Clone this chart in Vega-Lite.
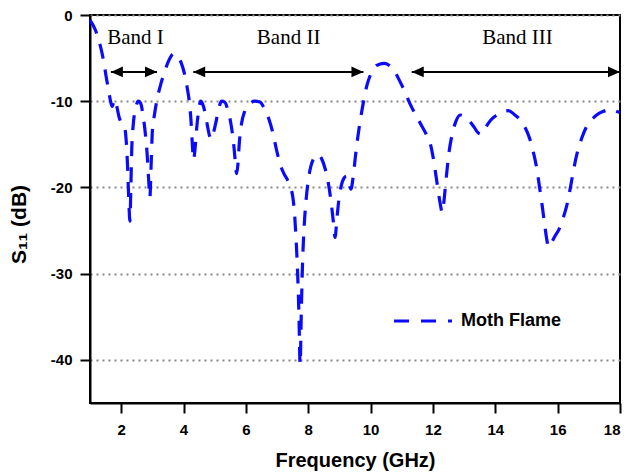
{
  "$schema": "https://vega.github.io/schema/vega-lite/v6.json",
  "width": 530,
  "height": 388,
  "autosize": {"type": "none"},
  "padding": {"left": 90, "top": 15, "right": 11, "bottom": 72},
  "background": "white",
  "config": {
    "view": {"stroke": "black", "strokeWidth": 2},
    "font": "Liberation Sans",
    "axis": {
      "domainColor": "black", "domainWidth": 2,
      "tickColor": "black", "tickWidth": 2,
      "labelColor": "black", "labelFont": "Liberation Sans", "labelFontWeight": "bold", "labelFontSize": 15,
      "titleColor": "black", "titleFont": "Liberation Sans", "titleFontWeight": "bold", "titleFontSize": 20
    }
  },
  "datasets": {
    "curve": [
      {"f":1.00,"s":-0.6},{"f":1.10,"s":-1.2},{"f":1.20,"s":-2.0},{"f":1.28,"s":-2.9},{"f":1.36,"s":-4.0},{"f":1.44,"s":-5.4},{"f":1.52,"s":-7.2},{"f":1.60,"s":-8.8},{"f":1.66,"s":-10.0},{"f":1.71,"s":-10.6},{"f":1.76,"s":-10.1},{"f":1.81,"s":-9.8},{"f":1.86,"s":-10.6},{"f":1.93,"s":-11.8},{"f":2.02,"s":-12.6},{"f":2.10,"s":-12.9},{"f":2.16,"s":-14.5},{"f":2.21,"s":-18},{"f":2.25,"s":-22},{"f":2.28,"s":-23.9},{"f":2.31,"s":-20},{"f":2.34,"s":-15.5},{"f":2.39,"s":-12.6},{"f":2.46,"s":-10.9},{"f":2.55,"s":-10.0},{"f":2.63,"s":-10.3},{"f":2.70,"s":-11.6},{"f":2.77,"s":-13.6},{"f":2.83,"s":-16},{"f":2.88,"s":-19},{"f":2.92,"s":-21.2},{"f":2.96,"s":-17.5},{"f":3.00,"s":-13.5},{"f":3.07,"s":-11.5},{"f":3.15,"s":-9.8},{"f":3.25,"s":-8.3},{"f":3.40,"s":-6.5},{"f":3.55,"s":-5.1},{"f":3.68,"s":-4.5},{"f":3.80,"s":-4.7},{"f":3.92,"s":-5.5},{"f":4.03,"s":-6.8},{"f":4.12,"s":-8.5},{"f":4.19,"s":-10.2},{"f":4.24,"s":-12.3},{"f":4.28,"s":-14.8},{"f":4.32,"s":-16.8},{"f":4.37,"s":-15.5},{"f":4.42,"s":-13.2},{"f":4.48,"s":-11.2},{"f":4.55,"s":-10.0},{"f":4.62,"s":-10.4},{"f":4.70,"s":-11.5},{"f":4.77,"s":-12.9},{"f":4.84,"s":-14.1},{"f":4.89,"s":-14.4},{"f":4.95,"s":-13.8},{"f":5.03,"s":-12.6},{"f":5.12,"s":-11.0},{"f":5.22,"s":-10.0},{"f":5.32,"s":-10.1},{"f":5.42,"s":-11.0},{"f":5.50,"s":-12.2},{"f":5.57,"s":-13.8},{"f":5.62,"s":-15.4},{"f":5.66,"s":-17.0},{"f":5.70,"s":-18.4},{"f":5.74,"s":-17.5},{"f":5.79,"s":-14.8},{"f":5.86,"s":-12.6},{"f":5.96,"s":-11.2},{"f":6.10,"s":-10.4},{"f":6.28,"s":-10.0},{"f":6.45,"s":-10.1},{"f":6.60,"s":-10.9},{"f":6.74,"s":-12.1},{"f":6.86,"s":-13.6},{"f":6.98,"s":-15.6},{"f":7.10,"s":-17.3},{"f":7.22,"s":-18.4},{"f":7.33,"s":-19.1},{"f":7.42,"s":-19.9},{"f":7.50,"s":-21.0},{"f":7.56,"s":-23.0},{"f":7.61,"s":-26.0},{"f":7.66,"s":-30},{"f":7.70,"s":-34.5},{"f":7.74,"s":-40.5},{"f":7.78,"s":-34},{"f":7.82,"s":-28.5},{"f":7.87,"s":-24.5},{"f":7.93,"s":-21.5},{"f":8.00,"s":-19.2},{"f":8.08,"s":-17.6},{"f":8.18,"s":-16.6},{"f":8.30,"s":-16.2},{"f":8.42,"s":-16.6},{"f":8.54,"s":-17.8},{"f":8.64,"s":-19.4},{"f":8.72,"s":-21.3},{"f":8.80,"s":-23.8},{"f":8.86,"s":-25.8},{"f":8.92,"s":-23.6},{"f":8.98,"s":-21.5},{"f":9.06,"s":-19.8},{"f":9.15,"s":-18.9},{"f":9.23,"s":-18.7},{"f":9.30,"s":-19.4},{"f":9.37,"s":-20.2},{"f":9.44,"s":-18.8},{"f":9.52,"s":-16.2},{"f":9.60,"s":-13.9},{"f":9.68,"s":-12.0},{"f":9.77,"s":-10.1},{"f":9.88,"s":-8.2},{"f":10.00,"s":-6.9},{"f":10.12,"s":-6.1},{"f":10.28,"s":-5.7},{"f":10.45,"s":-5.6},{"f":10.62,"s":-5.9},{"f":10.78,"s":-6.6},{"f":10.94,"s":-7.7},{"f":11.10,"s":-8.9},{"f":11.25,"s":-10.2},{"f":11.42,"s":-11.4},{"f":11.60,"s":-12.6},{"f":11.78,"s":-13.8},{"f":11.92,"s":-15.0},{"f":12.02,"s":-16.8},{"f":12.12,"s":-19.2},{"f":12.22,"s":-21.6},{"f":12.30,"s":-22.9},{"f":12.37,"s":-21},{"f":12.44,"s":-18.4},{"f":12.52,"s":-15.8},{"f":12.62,"s":-13.8},{"f":12.74,"s":-12.3},{"f":12.88,"s":-11.6},{"f":13.02,"s":-11.8},{"f":13.17,"s":-12.3},{"f":13.32,"s":-13.0},{"f":13.46,"s":-13.7},{"f":13.56,"s":-13.8},{"f":13.68,"s":-13.1},{"f":13.85,"s":-12.2},{"f":14.05,"s":-11.6},{"f":14.25,"s":-11.2},{"f":14.42,"s":-11.1},{"f":14.60,"s":-11.5},{"f":14.78,"s":-12.1},{"f":14.95,"s":-13.0},{"f":15.10,"s":-14.3},{"f":15.22,"s":-15.9},{"f":15.33,"s":-17.8},{"f":15.42,"s":-20.0},{"f":15.50,"s":-22.0},{"f":15.58,"s":-24.2},{"f":15.65,"s":-26.0},{"f":15.71,"s":-26.9},{"f":15.80,"s":-26.4},{"f":15.92,"s":-25.6},{"f":16.05,"s":-24.8},{"f":16.18,"s":-23.5},{"f":16.30,"s":-22.0},{"f":16.42,"s":-19.8},{"f":16.53,"s":-17.6},{"f":16.64,"s":-15.8},{"f":16.78,"s":-14.2},{"f":16.92,"s":-13.0},{"f":17.08,"s":-12.2},{"f":17.25,"s":-11.6},{"f":17.45,"s":-11.2},{"f":17.70,"s":-11.0},{"f":17.90,"s":-11.2},{"f":18.00,"s":-11.3}
    ],
    "bands": [
      {"band": "Band I", "start": 1.67, "end": 3.15, "level": -6.6, "mid": 2.46, "top": -2.7},
      {"band": "Band II", "start": 4.31, "end": 9.77, "level": -6.6, "mid": 7.37, "top": -2.7},
      {"band": "Band III", "start": 11.32, "end": 18.0, "level": -6.6, "mid": 14.71, "top": -2.7}
    ]
  },
  "layer": [
    {
      "data": {"name": "curve"},
      "mark": {"type": "line", "interpolate": "monotone", "strokeWidth": 3.2, "strokeDash": [15, 11], "strokeCap": "butt"},
      "encoding": {
        "x": {
          "field": "f", "type": "quantitative",
          "scale": {"domain": [1, 18], "nice": false, "zero": false},
          "axis": {
            "title": "Frequency (GHz)",
            "values": [2, 3, 4, 5, 6, 7, 8, 9, 10, 11, 12, 13, 14, 15, 16, 17, 18],
            "labelExpr": "datum.value % 2 == 0 ? '' + datum.value : ''",
            "tickSize": {"condition": {"test": "datum.value % 2 == 1", "value": 5}, "value": 10},
            "labelPadding": 9,
            "grid": false,
            "titleY": 63, "titleBaseline": "alphabetic"
          }
        },
        "y": {
          "field": "s", "type": "quantitative",
          "scale": {"domain": [-45, 0], "nice": false, "zero": false},
          "axis": {
            "title": "S₁₁ (dB)",
            "values": [0, -10, -20, -30, -40],
            "labelExpr": "'' + datum.value",
            "tickSize": 10, "labelPadding": 8,
            "grid": true, "gridColor": "#888888", "gridDash": [2, 4], "gridWidth": 2,
            "titleAngle": -90, "titleX": -71, "titleY": 209, "titleAlign": "center", "titleBaseline": "middle", "titleFontSize": 21
          }
        },
        "color": {
          "datum": "Moth Flame", "type": "nominal",
          "scale": {"range": ["#0a0aff"]},
          "legend": {
            "title": null, "orient": "none", "legendX": 302, "legendY": 275, "padding": 0,
            "symbolType": "stroke", "symbolSize": 3364, "symbolStrokeWidth": 3.2, "symbolDash": [15, 12],
            "labelFont": "Liberation Sans", "labelFontWeight": "bold", "labelFontSize": 18, "labelColor": "black", "labelOffset": 7
          }
        }
      }
    },
    {
      "data": {"name": "bands"},
      "mark": {"type": "rule", "color": "black", "strokeWidth": 2},
      "encoding": {
        "x": {"field": "start", "type": "quantitative"},
        "x2": {"field": "end"},
        "y": {"field": "level", "type": "quantitative"}
      }
    },
    {
      "data": {"name": "bands"},
      "mark": {"type": "point", "shape": "M0,0L2,-0.9L2,0.9Z", "filled": true, "color": "black", "opacity": 1, "size": 144},
      "encoding": {
        "x": {"field": "start", "type": "quantitative"},
        "y": {"field": "level", "type": "quantitative"}
      }
    },
    {
      "data": {"name": "bands"},
      "mark": {"type": "point", "shape": "M0,0L-2,-0.9L-2,0.9Z", "filled": true, "color": "black", "opacity": 1, "size": 144},
      "encoding": {
        "x": {"field": "end", "type": "quantitative"},
        "y": {"field": "level", "type": "quantitative"}
      }
    },
    {
      "data": {"name": "bands"},
      "mark": {"type": "text", "font": "Liberation Serif", "fontSize": 21, "color": "black", "align": "center", "baseline": "middle"},
      "encoding": {
        "x": {"field": "mid", "type": "quantitative"},
        "y": {"field": "top", "type": "quantitative"},
        "text": {"field": "band"}
      }
    }
  ]
}
